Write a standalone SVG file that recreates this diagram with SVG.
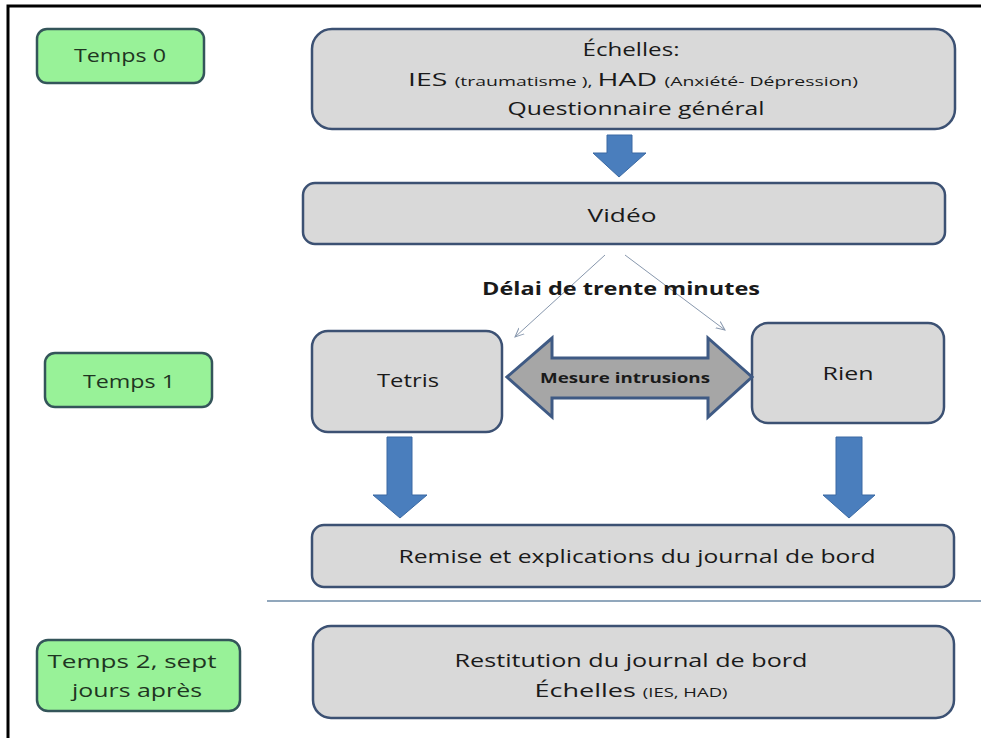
<svg xmlns="http://www.w3.org/2000/svg" width="981" height="738" viewBox="0 0 981 738">
  <defs>
    <style>
      .frame { fill: none; stroke: #000; stroke-width: 3; }
      .step { fill: #d9d9d9; stroke: #3c5173; stroke-width: 2.5; }
      .phase { fill: #98f298; stroke: #34555a; stroke-width: 2.5; }
      .lbl { font-family: "Open Sans", "Liberation Sans", sans-serif; fill: #1a1a1a; text-anchor: middle; }
      .phase-lbl { font-family: "Open Sans", "Liberation Sans", sans-serif; fill: #1f3522; text-anchor: middle; font-size: 19px; }
      .small { font-size: 13px; }
      .big { font-size: 19px; }
      .down { fill: #4a7ebd; stroke: #3a69a3; stroke-width: 1; }
      .both { fill: #a6a6a6; stroke: #3f5a84; stroke-width: 3; stroke-linejoin: miter; }
      .thin { fill: none; stroke: #8797ad; stroke-width: 1; }
      .sep { stroke: #6c8aa6; stroke-width: 1.5; }
    </style>
    <marker id="vhead" viewBox="0 0 10 10" refX="9" refY="5" markerWidth="10" markerHeight="10" markerUnits="userSpaceOnUse" orient="auto">
      <path d="M0,1 L9,5 L0,9" fill="none" stroke="#8797ad" stroke-width="1"/>
    </marker>
  </defs>

  <!-- page frame -->
  <path class="frame" d="M8,740 L8,6 L983,6"/>

  <!-- phase labels -->
  <g id="temps0">
    <rect class="phase" x="37" y="29" width="167" height="54" rx="10"/>
    <text class="phase-lbl" x="120" y="62" textLength="92" lengthAdjust="spacingAndGlyphs">Temps 0</text>
  </g>
  <g id="temps1">
    <rect class="phase" x="45" y="353" width="167" height="54" rx="10"/>
    <text class="phase-lbl" x="129" y="388" textLength="92" lengthAdjust="spacingAndGlyphs">Temps 1</text>
  </g>
  <g id="temps2">
    <rect class="phase" x="37" y="640" width="203" height="71" rx="11"/>
    <text class="phase-lbl" x="132" y="668" textLength="169" lengthAdjust="spacingAndGlyphs">Temps 2, sept</text>
    <text class="phase-lbl" x="137" y="697" textLength="130" lengthAdjust="spacingAndGlyphs">jours après</text>
  </g>

  <!-- steps -->
  <g id="echelles">
    <rect class="step" x="312" y="29" width="643" height="100" rx="20"/>
    <text class="lbl" x="631" y="56" font-size="18" textLength="97" lengthAdjust="spacingAndGlyphs">Échelles:</text>
    <text class="lbl" x="633" y="86" textLength="450" lengthAdjust="spacingAndGlyphs"><tspan class="big">IES </tspan><tspan class="small">(traumatisme ), </tspan><tspan class="big">HAD </tspan><tspan class="small">(Anxiété- Dépression)</tspan></text>
    <text class="lbl" x="636" y="115" font-size="19" textLength="257" lengthAdjust="spacingAndGlyphs">Questionnaire général</text>
  </g>

  <g id="video">
    <rect class="step" x="303" y="183" width="642" height="61" rx="12"/>
    <text class="lbl" x="622" y="222" font-size="19" textLength="69" lengthAdjust="spacingAndGlyphs">Vidéo</text>
  </g>

  <g id="tetris">
    <rect class="step" x="312" y="331" width="190" height="101" rx="16"/>
    <text class="lbl" x="408" y="387" font-size="19" textLength="62" lengthAdjust="spacingAndGlyphs">Tetris</text>
  </g>

  <g id="rien">
    <rect class="step" x="752" y="323" width="192" height="100" rx="16"/>
    <text class="lbl" x="848" y="380" font-size="19" textLength="51" lengthAdjust="spacingAndGlyphs">Rien</text>
  </g>

  <g id="remise">
    <rect class="step" x="312" y="525" width="642" height="62" rx="12"/>
    <text class="lbl" x="637" y="563" font-size="19" textLength="477" lengthAdjust="spacingAndGlyphs">Remise et explications du journal de bord</text>
  </g>

  <g id="restitution">
    <rect class="step" x="313" y="626" width="641" height="92" rx="18"/>
    <text class="lbl" x="631" y="667" font-size="19" textLength="353" lengthAdjust="spacingAndGlyphs">Restitution du journal de bord</text>
    <text class="lbl" x="631" y="697" textLength="193" lengthAdjust="spacingAndGlyphs"><tspan class="big">Échelles </tspan><tspan class="small">(IES, HAD)</tspan></text>
  </g>

  <!-- connectors -->
  <g id="connectors">
    <path class="down" d="M607,135 L632,135 L632,153 L646,153 L619,177 L593,153 L607,153 Z"/>
    <line class="thin" x1="605" y1="255" x2="515" y2="337" marker-end="url(#vhead)"/>
    <line class="thin" x1="625" y1="255" x2="725" y2="330" marker-end="url(#vhead)"/>
    <text class="lbl" x="621" y="295" font-size="18" font-weight="bold" fill="#111" textLength="278" lengthAdjust="spacingAndGlyphs">Délai de trente minutes</text>
    <path class="both" d="M507,377 L552,338 L552,358 L708,358 L708,338 L752,377 L708,417 L708,398 L552,398 L552,417 Z"/>
    <text class="lbl" x="625" y="383" font-size="15" font-weight="bold" fill="#222" textLength="170" lengthAdjust="spacingAndGlyphs">Mesure intrusions</text>
    <path class="down" d="M387,437 L412,437 L412,495 L427,495 L400,518 L373,495 L387,495 Z"/>
    <path class="down" d="M836,437 L862,437 L862,495 L875,495 L849,518 L823,495 L836,495 Z"/>
    <line class="sep" x1="267" y1="601" x2="981" y2="601"/>
  </g>
</svg>
